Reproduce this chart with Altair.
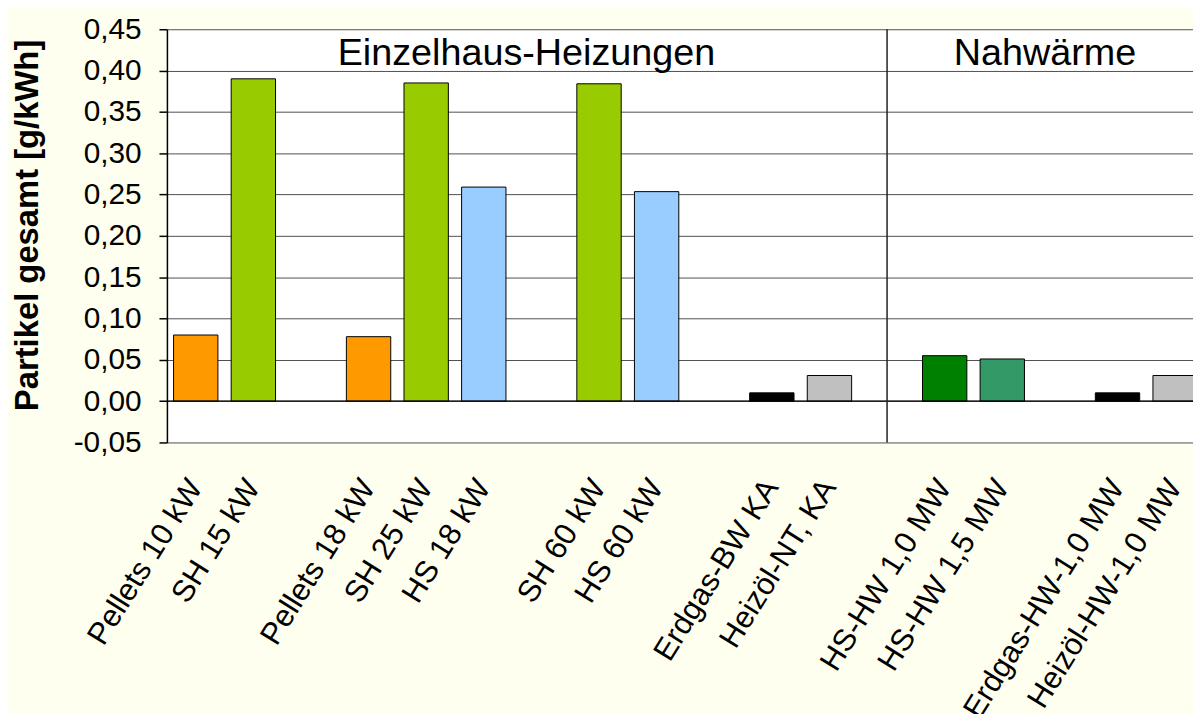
import altair as alt
import pandas as pd

# category slots (entries starting with "_" are empty spacer slots)
slot_order = [
    "Pellets 10 kW", "SH 15 kW", "_g1",
    "Pellets 18 kW", "SH 25 kW", "HS 18 kW", "_g2",
    "SH 60 kW", "HS 60 kW", "_g3",
    "Erdgas-BW KA", "Heizöl-NT, KA", "_div",
    "HS-HW 1,0 MW", "HS-HW 1,5 MW", "_g4",
    "Erdgas-HW-1,0 MW", "Heizöl-HW-1,0 MW",
]

bar_labels = [
    "Pellets 10 kW", "SH 15 kW",
    "Pellets 18 kW", "SH 25 kW", "HS 18 kW",
    "SH 60 kW", "HS 60 kW",
    "Erdgas-BW KA", "Heizöl-NT, KA",
    "HS-HW 1,0 MW", "HS-HW 1,5 MW",
    "Erdgas-HW-1,0 MW", "Heizöl-HW-1,0 MW",
]
bar_values = [
    0.080, 0.390,
    0.078, 0.385, 0.259,
    0.384, 0.2535,
    0.010, 0.031,
    0.055, 0.051,
    0.010, 0.031,
]
bar_colors = [
    "#FF9900", "#99CC00",
    "#FF9900", "#99CC00", "#99CCFF",
    "#99CC00", "#99CCFF",
    "#000000", "#C0C0C0",
    "#008000", "#339966",
    "#000000", "#C0C0C0",
]

section_titles = ["Einzelhaus-Heizungen", "Nahwärme"]
section_slots = ["_g2", "_g4"]
section_y = [0.407, 0.407]

divider_slots = ["_div"]

y_ticks = [-0.05, 0.0, 0.05, 0.10, 0.15, 0.20, 0.25, 0.30, 0.35, 0.40, 0.45]

FONT = "Liberation Sans"

bars_df = pd.DataFrame({"label": bar_labels, "value": bar_values, "color": bar_colors})
text_df = pd.DataFrame({"slot": section_slots, "text": section_titles, "y": section_y})
div_df = pd.DataFrame({"slot": divider_slots})
zero_df = pd.DataFrame({"v": [0.0]})

x_scale = alt.Scale(domain=slot_order, range=[0, 1044], paddingInner=0.23, paddingOuter=0.115)
y_scale = alt.Scale(domain=[-0.05, 0.45], nice=False, zero=False)

x_axis = alt.Axis(
    title=None,
    domain=False,
    ticks=False,
    grid=False,
    labelAngle=-58,
    labelAlign="right",
    labelBaseline="middle",
    labelPadding=40,
    labelFontSize=31,
    labelFont=FONT,
    labelColor="black",
    labelLimit=600,
    labelOverlap=False,
    labelExpr="indexof(datum.label, '_') == 0 ? '' : datum.label",
)

y_axis = alt.Axis(
    title="Partikel gesamt [g/kWh]",
    titleFont=FONT,
    titleFontSize=33,
    titleFontWeight="bold",
    titleColor="black",
    titleX=-140,
    titleY=197,
    titleAlign="center",
    titleBaseline="middle",
    values=y_ticks,
    labelExpr="(datum.value < -0.0001 ? '-' : '') + replace(format(abs(datum.value), '.2f'), '.', ',')",
    labelFont=FONT,
    labelFontSize=30,
    labelColor="black",
    labelPadding=18,
    domain=True,
    domainColor="black",
    domainWidth=1.5,
    ticks=True,
    tickColor="black",
    tickSize=8,
    tickWidth=1.5,
    grid=True,
    gridColor="#505050",
    gridWidth=1,
)

bars = alt.Chart(bars_df).mark_bar(stroke="black", strokeWidth=1, clip=True).encode(
    x=alt.X("label:N", scale=x_scale, axis=x_axis),
    y=alt.Y("value:Q", scale=y_scale, axis=y_axis),
    y2=alt.datum(0),
    color=alt.Color("color:N", scale=None),
)

zero_rule = alt.Chart(zero_df).mark_rule(color="black", strokeWidth=1.5).encode(
    y=alt.Y("v:Q", scale=y_scale)
)

divider = alt.Chart(div_df).mark_rule(color="#222222", strokeWidth=1.5).encode(
    x=alt.X("slot:N", scale=x_scale)
)

titles = alt.Chart(text_df).mark_text(
    font=FONT, fontSize=38, color="black", align="center", baseline="alphabetic", dx=-15
).encode(
    x=alt.X("slot:N", scale=x_scale),
    y=alt.Y("y:Q", scale=y_scale),
    text="text:N",
)

chart = alt.layer(bars, zero_rule, divider, titles).properties(
    width=1033,
    height=416,
    background="#FFFFEF",
    autosize=alt.AutoSizeParams(type="none"),
    padding={"left": 160, "top": 19, "right": 0, "bottom": 271},
).configure_view(
    fill="white",
    stroke="transparent",
)

chart.save("out.html", embed_options={"renderer": "svg", "actions": False})
